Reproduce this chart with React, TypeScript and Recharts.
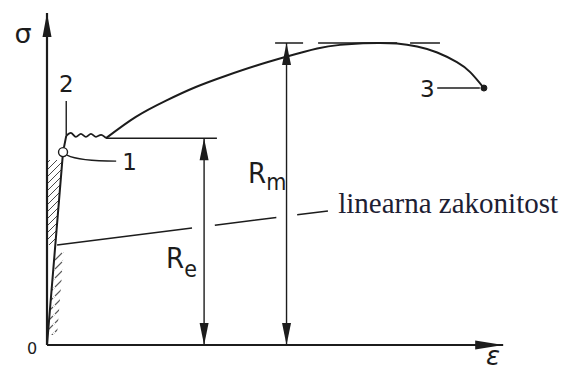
import { ComposedChart, XAxis, YAxis, Line, Area, ReferenceLine, ReferenceDot } from "recharts"

// strain (e) and stress (s) in arbitrary units
const elastic = [
  { e: 0, s: 0 },
  { e: 3.5, s: 58.1 },
  { e: 4.2, s: 63.0 },
]

const yieldPlateau = [
  { e: 4.2, s: 63.0 },
  { e: 5.2, s: 63.9 },
  { e: 6.3, s: 62.7 },
  { e: 7.4, s: 63.6 },
  { e: 8.5, s: 62.7 },
  { e: 9.6, s: 63.6 },
  { e: 10.7, s: 62.7 },
  { e: 11.8, s: 63.3 },
  { e: 12.9, s: 62.3 },
]

const hardening = [
  { e: 12.9, s: 62.3 },
  { e: 19.4, s: 68.7 },
  { e: 26.0, s: 73.6 },
  { e: 32.5, s: 77.7 },
  { e: 39.1, s: 81.1 },
  { e: 45.6, s: 84.1 },
  { e: 52.2, s: 86.8 },
  { e: 59.0, s: 89.3 },
  { e: 64.0, s: 90.4 },
  { e: 69.0, s: 90.9 },
  { e: 72.7, s: 91.0 },
  { e: 76.4, s: 90.8 },
  { e: 80.8, s: 89.9 },
  { e: 85.2, s: 88.1 },
  { e: 89.5, s: 85.2 },
  { e: 92.4, s: 82.2 },
  { e: 95.4, s: 77.4 },
]

const linearLaw = [
  { e: 2.2, s: 30.1 },
  { e: 61.4, s: 40.4 },
]

// hatched zones along the elastic line
const hatchUpper = [
  { e: 0, band: [30.1, 55.7] },
  { e: 1.81, band: [30.1, 55.7] },
  { e: 3.36, band: [55.7, 55.7] },
]
const hatchLower = [
  { e: 0.18, band: [3, 3] },
  { e: 1.69, band: [3, 28] },
  { e: 2.18, band: [3, 28] },
  { e: 3.69, band: [28, 28] },
]

const point1 = { e: 3.5, s: 58.1 }
const point2 = { e: 4.2, s: 63.0 }
const point3 = { e: 95.4, s: 77.4 }

const Re = 62.3
const Rm = 91.0
const ReStrain = 34.3
const RmStrain = 52.3
const ReLineEnd = 37.1
const RmLine = [49.8, 85.8]

const INK = "#1c1c1c"
const SANS = "'DejaVu Sans', sans-serif"
const SANS_C = "'DejaVu Sans Condensed', 'DejaVu Sans', sans-serif"

function head(x: number, y: number, fx: number, fy: number, len: number, half: number) {
  const d = Math.hypot(x - fx, y - fy) || 1
  const ux = (x - fx) / d
  const uy = (y - fy) / d
  const bx = x - ux * len
  const by = y - uy * len
  return `${x},${y} ${bx - uy * half},${by + ux * half} ${bx + uy * half},${by - ux * half}`
}

const arrow = (both: boolean, width = 1.4, len = 22, half = 4.5) => (p: any) => (
  <g>
    <line x1={p.x1} y1={p.y1} x2={p.x2} y2={p.y2} stroke={INK} strokeWidth={width} />
    <polygon points={head(p.x2, p.y2, p.x1, p.y1, len, half)} fill={INK} />
    {both && <polygon points={head(p.x1, p.y1, p.x2, p.y2, len, half)} fill={INK} />}
  </g>
)

const curvedLeader = (p: any) => (
  <path d={`M${p.x1},${p.y1} Q${p.x1 + 12},${p.y2} ${p.x2},${p.y2}`} fill="none" stroke={INK} strokeWidth={1.3} />
)

const txt = (value: string, dx: number, dy: number, size: number, extra: any = {}) => (p: any) => (
  <text x={p.cx + dx} y={p.cy + dy} fontSize={size} fontFamily={SANS} fill={INK} textAnchor="middle" {...extra}>
    {value}
  </text>
)

const sub = (main: string, low: string, dx: number, dy: number, drop: number) => (p: any) => (
  <text x={p.cx + dx} y={p.cy + dy} fontFamily={SANS_C} fill={INK}>
    <tspan fontSize={29}>{main}</tspan>
    <tspan fontSize={23} dy={drop}>{low}</tspan>
  </text>
)

export default function App() {
  return (
    <div style={{ position: "absolute", left: 0, top: 0, background: "#fff" }}>
      <ComposedChart width={562} height={370} margin={{ top: 13, right: 57, bottom: 25, left: 47 }}>
        <defs>
          <pattern id="hatchDense" patternUnits="userSpaceOnUse" width="7" height="7">
            <path d="M-2,2 L2,-2 M0,7 L7,0 M5,9 L9,5" stroke="#333" strokeWidth={0.9} />
          </pattern>
          <pattern id="hatchLight" patternUnits="userSpaceOnUse" width="9" height="9">
            <path d="M-2,2 L2,-2 M1,8 L8,1 M7,11 L11,7" stroke="#5a5a5a" strokeWidth={1.1} />
          </pattern>
        </defs>
        <XAxis type="number" dataKey="e" domain={[0, 100]} allowDataOverflow hide />
        <YAxis type="number" domain={[0, 100]} allowDataOverflow hide />

        <Area data={hatchUpper} dataKey="band" type="linear" stroke="none" fill="url(#hatchDense)" fillOpacity={1} dot={false} activeDot={false} isAnimationActive={false} />
        <Area data={hatchLower} dataKey="band" type="linear" stroke="none" fill="url(#hatchLight)" fillOpacity={1} dot={false} activeDot={false} isAnimationActive={false} />

        {/* axes with arrows */}
        <ReferenceLine segment={[{ x: 0, y: 0 }, { x: 0, y: 100 }]} ifOverflow="visible" shape={arrow(false, 2.2, 24, 4.5)} />
        <ReferenceLine segment={[{ x: 0, y: 0 }, { x: 99.6, y: 0 }]} ifOverflow="visible" shape={arrow(false, 2.2, 28, 4.5)} />

        {/* linear law and limits */}
        <ReferenceLine segment={linearLaw.map((d) => ({ x: d.e, y: d.s }))} ifOverflow="visible" stroke={INK} strokeWidth={1.5} strokeDasharray="136 23 62 21 31" />
        <ReferenceLine segment={[{ x: 12.9, y: Re }, { x: ReLineEnd, y: Re }]} ifOverflow="visible" stroke={INK} strokeWidth={1.5} />
        <ReferenceLine segment={[{ x: RmLine[0], y: Rm }, { x: RmLine[1], y: Rm }]} ifOverflow="visible" stroke={INK} strokeWidth={1.5} strokeDasharray="28 15 79 13 30" />
        <ReferenceLine segment={[{ x: ReStrain, y: 0 }, { x: ReStrain, y: Re }]} ifOverflow="visible" shape={arrow(true, 1.4, 22, 4.5)} />
        <ReferenceLine segment={[{ x: RmStrain, y: 0 }, { x: RmStrain, y: Rm }]} ifOverflow="visible" shape={arrow(true, 1.4, 22, 4.5)} />

        {/* leaders */}
        <ReferenceLine segment={[{ x: 4.37, y: 57.2 }, { x: 15.1, y: 55.4 }]} ifOverflow="visible" shape={curvedLeader} />
        <ReferenceLine segment={[{ x: point2.e, y: 73.5 }, { x: point2.e, y: point2.s }]} ifOverflow="visible" stroke={INK} strokeWidth={1.4} />
        <ReferenceLine segment={[{ x: 85.2, y: point3.s }, { x: 94.5, y: point3.s }]} ifOverflow="visible" stroke={INK} strokeWidth={1.4} />

        <Line data={elastic} dataKey="s" type="linear" stroke={INK} strokeWidth={2} dot={false} activeDot={false} isAnimationActive={false} />
        <Line data={yieldPlateau} dataKey="s" type="monotoneX" stroke={INK} strokeWidth={1.8} dot={false} activeDot={false} isAnimationActive={false} />
        <Line data={hardening} dataKey="s" type="natural" stroke={INK} strokeWidth={2} dot={false} activeDot={false} isAnimationActive={false} />

        <ReferenceDot x={point1.e} y={point1.s} r={4.5} fill="#fff" stroke={INK} strokeWidth={1.4} ifOverflow="visible" />
        <ReferenceDot x={point3.e} y={point3.s} r={3} fill={INK} stroke={INK} ifOverflow="visible" />

        {/* labels */}
        <ReferenceDot x={0} y={100} r={0} ifOverflow="visible" shape={txt("σ", -24, 30, 27)} />
        <ReferenceDot x={0} y={0} r={0} ifOverflow="visible" shape={txt("0", -15, 9, 16)} />
        <ReferenceDot x={100} y={0} r={0} ifOverflow="visible" shape={txt("ε", -12, 20, 26, { fontStyle: "italic" })} />
        <ReferenceDot x={point1.e} y={point1.s} r={0} ifOverflow="visible" shape={txt("1", 66.5, 18, 23)} />
        <ReferenceDot x={point2.e} y={point2.s} r={0} ifOverflow="visible" shape={txt("2", 0, -44, 23)} />
        <ReferenceDot x={point3.e} y={point3.s} r={0} ifOverflow="visible" shape={txt("3", -56.5, 9, 23)} />
        <ReferenceDot x={ReStrain} y={0} r={0} ifOverflow="visible" shape={sub("R", "e", -38, -77, 9)} />
        <ReferenceDot x={RmStrain} y={0} r={0} ifOverflow="visible" shape={sub("R", "m", -38.5, -162, 7)} />
        <ReferenceDot
          x={linearLaw[1].e}
          y={linearLaw[1].s}
          r={0}
          ifOverflow="visible"
          shape={txt("linearna zakonitost", 10, 2, 29, { textAnchor: "start", fontFamily: "'Liberation Serif', serif", fill: "#1d2033" })}
        />
      </ComposedChart>
    </div>
  )
}
